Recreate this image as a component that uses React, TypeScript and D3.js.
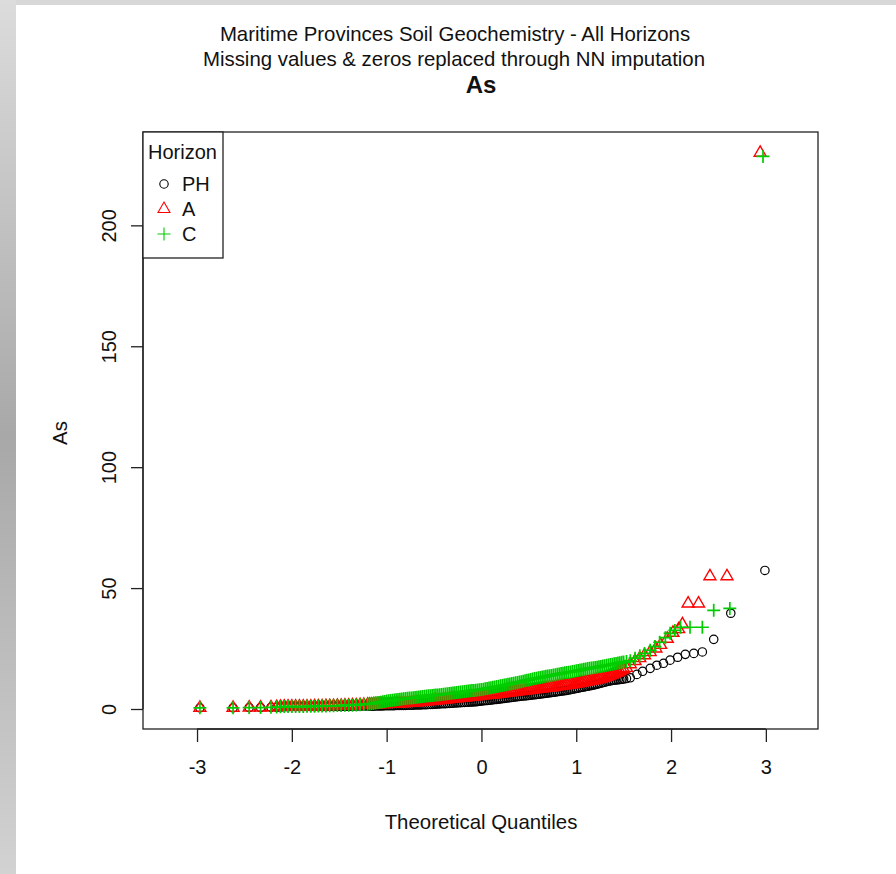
import React, { useRef, useEffect } from 'react';
import * as d3 from 'd3';

// theoretical quantiles shared by the three horizons (lower and middle part of the curves)
const QUANTILES = [
  // far lower tail
  -2.97, -2.62, -2.45, -2.33, -2.22, -2.16,
  // lower values near the detection limit
  -2.12, -2.08, -2.04, -2.00, -1.96, -1.92, -1.88, -1.84, -1.80, -1.76, -1.72, -1.68,
  -1.64, -1.60, -1.56, -1.52, -1.48, -1.44, -1.40, -1.36, -1.32, -1.28, -1.24,
  // dense middle
  -1.20, -1.18, -1.16, -1.14, -1.12, -1.10, -1.08, -1.06, -1.04, -1.02,
  -1.00, -0.98, -0.96, -0.94, -0.92, -0.90, -0.88, -0.86, -0.84, -0.82,
  -0.80, -0.78, -0.76, -0.74, -0.72, -0.70, -0.68, -0.66, -0.64, -0.62,
  -0.60, -0.58, -0.56, -0.54, -0.52, -0.50, -0.48, -0.46, -0.44, -0.42,
  -0.40, -0.38, -0.36, -0.34, -0.32, -0.30, -0.28, -0.26, -0.24, -0.22,
  -0.20, -0.18, -0.16, -0.14, -0.12, -0.10, -0.08, -0.06, -0.04, -0.02,
  0.00, 0.02, 0.04, 0.06, 0.08, 0.10, 0.12, 0.14, 0.16, 0.18,
  0.20, 0.22, 0.24, 0.26, 0.28, 0.30, 0.32, 0.34, 0.36, 0.38,
  0.40, 0.42, 0.44, 0.46, 0.48, 0.50, 0.52, 0.54, 0.56, 0.58,
  0.60, 0.62, 0.64, 0.66, 0.68, 0.70, 0.72, 0.74, 0.76, 0.78,
  0.80, 0.82, 0.84, 0.86, 0.88, 0.90, 0.92, 0.94, 0.96, 0.98,
  1.00, 1.02, 1.04, 1.06, 1.08, 1.10, 1.12, 1.14, 1.16, 1.18,
  1.20, 1.22, 1.24, 1.26, 1.28, 1.30, 1.32, 1.34, 1.36, 1.38,
  1.40, 1.42, 1.44, 1.46, 1.48, 1.50
];

const PH_VALUES = [
  0.5, 0.5, 0.6, 0.6, 0.7, 0.7,
  0.8, 0.9, 0.9, 1.0, 1.0, 1.0, 1.0, 1.0, 1.0, 1.0, 1.0, 1.0,
  1.0, 1.1, 1.1, 1.1, 1.1, 1.1, 1.1, 1.2, 1.2, 1.2, 1.2,
  1.2, 1.2, 1.2, 1.2, 1.3, 1.3, 1.3, 1.3, 1.3, 1.4,
  1.4, 1.4, 1.4, 1.4, 1.4, 1.5, 1.5, 1.5, 1.5, 1.5,
  1.5, 1.6, 1.6, 1.6, 1.6, 1.7, 1.7, 1.7, 1.7, 1.8,
  1.8, 1.8, 1.9, 1.9, 1.9, 2.0, 2.0, 2.1, 2.1, 2.2,
  2.2, 2.2, 2.3, 2.3, 2.4, 2.4, 2.5, 2.5, 2.6, 2.6,
  2.7, 2.7, 2.8, 2.8, 2.9, 2.9, 3.0, 3.0, 3.1, 3.2,
  3.3, 3.4, 3.5, 3.5, 3.6, 3.7, 3.8, 3.9, 4.0, 4.1,
  4.2, 4.3, 4.4, 4.5, 4.6, 4.7, 4.8, 4.9, 5.0, 5.1,
  5.2, 5.3, 5.4, 5.4, 5.5, 5.6, 5.7, 5.8, 5.9, 6.0,
  6.1, 6.2, 6.3, 6.4, 6.5, 6.6, 6.7, 6.8, 6.9, 7.0,
  7.2, 7.3, 7.4, 7.5, 7.6, 7.7, 7.9, 8.0, 8.2, 8.3,
  8.5, 8.6, 8.8, 9.0, 9.1, 9.3, 9.4, 9.6, 9.7, 9.9,
  10.1, 10.3, 10.5, 10.7, 10.9, 11.1, 11.3, 11.5, 11.6, 11.8,
  11.9, 12.0, 12.1, 12.2, 12.3, 12.4
];

const A_VALUES = [
  0.5, 0.5, 0.6, 0.6, 0.7, 0.8,
  0.9, 1.0, 1.0, 1.0, 1.0, 1.0, 1.0, 1.0, 1.0, 1.1, 1.1, 1.1,
  1.2, 1.2, 1.2, 1.3, 1.3, 1.4, 1.4, 1.5, 1.5, 1.6, 1.7,
  1.8, 1.8, 1.8, 1.9, 1.9, 1.9, 1.9, 2.0, 2.0, 2.0,
  2.0, 2.1, 2.1, 2.1, 2.1, 2.2, 2.2, 2.3, 2.3, 2.4,
  2.4, 2.5, 2.5, 2.6, 2.7, 2.7, 2.8, 2.9, 2.9, 3.0,
  3.1, 3.2, 3.3, 3.3, 3.4, 3.5, 3.6, 3.6, 3.7, 3.8,
  3.9, 3.9, 4.0, 4.1, 4.2, 4.3, 4.4, 4.4, 4.5, 4.6,
  4.7, 4.7, 4.8, 4.9, 5.0, 5.1, 5.2, 5.2, 5.3, 5.4,
  5.5, 5.6, 5.7, 5.8, 5.9, 5.9, 6.0, 6.1, 6.2, 6.3,
  6.4, 6.5, 6.6, 6.7, 6.8, 6.9, 7.0, 7.1, 7.2, 7.3,
  7.4, 7.4, 7.5, 7.6, 7.7, 7.8, 7.9, 8.0, 8.1, 8.2,
  8.3, 8.4, 8.5, 8.6, 8.7, 8.8, 8.9, 9.0, 9.1, 9.2,
  9.4, 9.5, 9.6, 9.7, 9.8, 9.9, 10.0, 10.1, 10.2, 10.4,
  10.5, 10.6, 10.8, 10.9, 11.1, 11.2, 11.4, 11.5, 11.7, 11.8,
  12.0, 12.2, 12.4, 12.6, 12.8, 13.0, 13.3, 13.6, 13.9, 14.2,
  14.6, 14.9, 15.3, 15.7, 16.1, 16.5
];

const C_VALUES = [
  0.5, 0.5, 0.6, 0.6, 0.7, 0.8,
  0.9, 1.0, 1.0, 1.0, 1.0, 1.0, 1.0, 1.1, 1.1, 1.1, 1.2, 1.2,
  1.2, 1.3, 1.3, 1.4, 1.4, 1.5, 1.6, 1.6, 1.7, 1.8, 1.9,
  2.0, 2.1, 2.2, 2.3, 2.5, 2.6, 2.7, 2.8, 3.0, 3.1,
  3.3, 3.4, 3.5, 3.6, 3.7, 3.8, 3.9, 4.0, 4.1, 4.2,
  4.3, 4.4, 4.5, 4.6, 4.7, 4.8, 4.9, 5.0, 5.1, 5.2,
  5.3, 5.4, 5.5, 5.5, 5.6, 5.7, 5.8, 5.8, 5.9, 6.0,
  6.1, 6.2, 6.3, 6.4, 6.5, 6.6, 6.7, 6.8, 6.9, 7.0,
  7.1, 7.2, 7.3, 7.4, 7.5, 7.6, 7.7, 7.8, 7.9, 8.0,
  8.1, 8.2, 8.4, 8.5, 8.7, 8.8, 9.0, 9.1, 9.3, 9.4,
  9.6, 9.7, 9.9, 10.0, 10.2, 10.3, 10.5, 10.7, 10.9, 11.0,
  11.2, 11.3, 11.5, 11.7, 11.9, 12.0, 12.2, 12.4, 12.6, 12.7,
  12.9, 13.0, 13.2, 13.3, 13.5, 13.6, 13.8, 13.9, 14.1, 14.2,
  14.4, 14.5, 14.7, 14.8, 15.0, 15.1, 15.2, 15.3, 15.5, 15.6,
  15.8, 15.9, 16.1, 16.2, 16.4, 16.5, 16.7, 16.8, 17.0, 17.1,
  17.2, 17.3, 17.5, 17.6, 17.8, 17.9, 18.1, 18.2, 18.4, 18.5,
  18.7, 18.8, 19.0, 19.1, 19.3, 19.4
];

// upper tails, [quantile, As]
const PH_TAIL = [
  [1.53, 12.6], [1.57, 12.9], [1.64, 14.3], [1.70, 15.6], [1.78, 16.8], [1.85, 18.1],
  [1.92, 18.9], [1.99, 20.2], [2.07, 21.4], [2.15, 22.6], [2.24, 23.0], [2.33, 23.6],
  [2.45, 28.8], [2.63, 39.6], [2.99, 57.3]
];

const A_TAIL = [
  [1.53, 17.0], [1.57, 18.5], [1.62, 19.8], [1.67, 21.0], [1.72, 22.2], [1.78, 23.5],
  [1.84, 25.0], [1.89, 26.5], [1.96, 29.0], [2.02, 31.5], [2.08, 33.0], [2.12, 35.0],
  [2.18, 43.6], [2.29, 43.6], [2.41, 54.9], [2.59, 54.9], [2.94, 230.0]
];

const C_TAIL = [
  [1.53, 19.6], [1.57, 20.0], [1.62, 21.0], [1.67, 22.0], [1.72, 23.0], [1.78, 24.3],
  [1.83, 25.8], [1.88, 27.6], [1.94, 29.5], [1.99, 31.3], [2.04, 32.5], [2.10, 33.8],
  [2.20, 33.8], [2.33, 33.8], [2.45, 40.8], [2.62, 41.6], [2.97, 228.5]
];

const HORIZONS = ['PH', 'A', 'C'];
const X_TICKS = [-3, -2, -1, 0, 1, 2, 3];
const Y_TICKS = [0, 50, 100, 150, 200];
const XLIM = [-3.57, 3.55];
const YLIM = [-8.27, 238.6];

const FONT = '"Liberation Sans", Arial, Helvetica, sans-serif';
const COLORS = { PH: '#000000', A: '#ff0000', C: '#00cd00' };

const App = () => {
  const svgRef = useRef(null);

  useEffect(() => {
    const width = 896;
    const height = 874;
    const box = { left: 143, right: 818, top: 132, bottom: 729 };

    const svg = d3.select(svgRef.current);
    svg.selectAll('*').remove();
    svg.attr('width', width).attr('height', height).attr('viewBox', `0 0 ${width} ${height}`);

    // page frame
    const defs = svg.append('defs');
    const grad = defs.append('linearGradient').attr('id', 'edge').attr('x1', 0).attr('y1', 0).attr('x2', 0).attr('y2', 1);
    grad.append('stop').attr('offset', '0%').attr('stop-color', '#dcdcdc');
    grad.append('stop').attr('offset', '50%').attr('stop-color', '#a8a8a8');
    grad.append('stop').attr('offset', '100%').attr('stop-color', '#d2d2d2');
    svg.append('rect').attr('width', width).attr('height', height).attr('fill', '#ffffff');
    svg.append('rect').attr('width', width).attr('height', 5).attr('fill', '#d8d8d8');
    svg.append('rect').attr('width', 16).attr('height', height).attr('fill', 'url(#edge)');

    const x = d3.scaleLinear().domain(XLIM).range([box.left, box.right]);
    const y = d3.scaleLinear().domain(YLIM).range([box.bottom, box.top]);

    const pair = (vals) => QUANTILES.map((q, i) => [q, vals[i]]).filter((d) => d[1] != null);
    const series = {
      PH: pair(PH_VALUES).concat(PH_TAIL),
      A: pair(A_VALUES).concat(A_TAIL),
      C: pair(C_VALUES).concat(C_TAIL)
    };

    const triangle = d3.symbol(d3.symbolTriangle, 62)();
    const plus = 'M-6.5,0H6.5M0,-6.5V6.5';
    const widths = { PH: 1.2, A: 1.4, C: 1.7 };

    const drawMarker = (g, key, cx, cy, lw) => {
      if (key === 'PH') {
        g.append('circle').attr('cx', cx).attr('cy', cy).attr('r', 4.2)
          .attr('fill', 'none').attr('stroke', COLORS.PH).attr('stroke-width', lw);
      } else {
        g.append('path').attr('d', key === 'A' ? triangle : plus)
          .attr('transform', `translate(${cx},${cy})`)
          .attr('fill', 'none').attr('stroke', COLORS[key]).attr('stroke-width', lw);
      }
    };

    const pts = svg.append('g');
    HORIZONS.forEach((key) => {
      series[key].forEach(([q, v]) => drawMarker(pts, key, x(q), y(v), widths[key]));
    });

    // box
    svg.append('rect')
      .attr('x', box.left).attr('y', box.top)
      .attr('width', box.right - box.left).attr('height', box.bottom - box.top)
      .attr('fill', 'none').attr('stroke', '#222').attr('stroke-width', 1.3);

    // axes
    const xAxis = svg.append('g')
      .attr('transform', `translate(0,${box.bottom})`)
      .call(d3.axisBottom(x).tickValues(X_TICKS).tickSize(13).tickPadding(18).tickFormat(d3.format('d')));
    xAxis.select('.domain').attr('d', `M${x(-3)},0H${x(3)}`).attr('stroke', '#222').attr('stroke-width', 1.3);
    xAxis.selectAll('.tick line').attr('stroke', '#222').attr('stroke-width', 1.3);
    xAxis.selectAll('.tick text')
      .attr('font-family', FONT).attr('font-size', '20px').attr('fill', '#111')
      .attr('dy', '0.71em')
      .text((d) => (d < 0 ? '-' + Math.abs(d) : String(d)));

    const yAxis = svg.append('g')
      .attr('transform', `translate(${box.left},0)`)
      .call(d3.axisLeft(y).tickValues(Y_TICKS).tickSize(12).tickFormat(d3.format('d')));
    yAxis.select('.domain').attr('d', `M0,${y(0)}V${y(200)}`).attr('stroke', '#222').attr('stroke-width', 1.3);
    yAxis.selectAll('.tick line').attr('stroke', '#222').attr('stroke-width', 1.3);
    yAxis.selectAll('.tick text')
      .attr('font-family', FONT).attr('font-size', '20px').attr('fill', '#111')
      .attr('x', null).attr('dy', null)
      .attr('text-anchor', 'middle').attr('dominant-baseline', 'central')
      .attr('transform', 'translate(-34,0) rotate(-90)');

    // titles
    const text = (tx, ty, str, size, weight) => svg.append('text')
      .attr('x', tx).attr('y', ty).attr('text-anchor', 'middle')
      .attr('font-family', FONT).attr('font-size', size).attr('font-weight', weight || 'normal')
      .attr('fill', '#111').text(str);

    text(455, 41, 'Maritime Provinces Soil Geochemistry - All Horizons', '20.4px');
    text(454, 66, 'Missing values & zeros replaced through NN imputation', '20.4px');
    text(481, 93, 'As', '24px', 'bold');
    text(481, 829, 'Theoretical Quantiles', '20.4px');
    svg.append('text')
      .attr('transform', 'translate(60,433) rotate(-90)')
      .attr('text-anchor', 'middle').attr('dominant-baseline', 'central')
      .attr('font-family', FONT).attr('font-size', '20.4px').attr('fill', '#111')
      .text('As');

    // legend
    const legend = svg.append('g');
    legend.append('rect').attr('x', box.left).attr('y', box.top).attr('width', 80).attr('height', 126)
      .attr('fill', '#fff').attr('stroke', '#222').attr('stroke-width', 1.3);
    legend.append('text').attr('x', 148).attr('y', 159)
      .attr('font-family', FONT).attr('font-size', '20px').attr('fill', '#111').text('Horizon');
    HORIZONS.forEach((key, i) => {
      const cy = 184 + i * 25;
      drawMarker(legend, key, 164, cy, 1.1);
      legend.append('text').attr('x', 182).attr('y', cy).attr('dominant-baseline', 'central')
        .attr('font-family', FONT).attr('font-size', '20px').attr('fill', '#111').text(key);
    });
  }, []);

  return (
    <div style={{ position: 'absolute', left: 0, top: 0 }}>
      <svg ref={svgRef} style={{ display: 'block' }} />
    </div>
  );
};

export default App;
